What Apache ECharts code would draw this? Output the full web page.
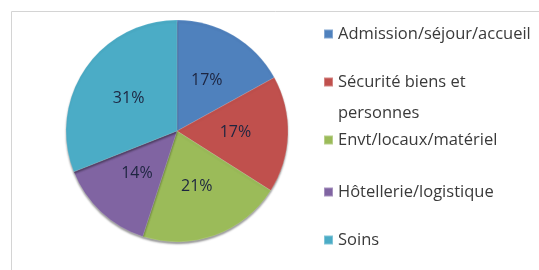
<!DOCTYPE html>
<html>
<head>
<meta charset="utf-8">
<script src="https://cdn.jsdelivr.net/npm/echarts@6/dist/echarts.min.js"></script>
<style>
  html, body { margin: 0; padding: 0; background: #fff; }
  #chart { width: 539px; height: 270px; }
</style>
</head>
<body>
<div id="chart"></div>
<script>
(function () {
  'use strict';

  var categories = ['Admission/séjour/accueil', 'Sécurité biens et personnes', 'Envt/locaux/matériel', 'Hôtellerie/logistique', 'Soins'];
  var values = [17, 17, 21, 14, 31];
  var colors = ['#4f81bd', '#c0504d', '#9bbb59', '#8064a2', '#4bacc6'];
  // vertical centre of each legend entry's first line
  var legendRows = [34, 82, 140, 192, 240];

  var data = categories.map(function (name, i) {
    return { name: name, value: values[i], itemStyle: { color: colors[i] } };
  });

  var legends = categories.map(function (name, i) {
    var wrapped = name === 'Sécurité biens et personnes';
    var lh = wrapped ? 31 : 20;
    // wrapped entry: an empty first line keeps the marker on "Sécurité..."
    var top = wrapped ? legendRows[i] - lh * 1.5 : legendRows[i] - lh / 2;
    return {
      data: [name],
      left: 323,
      top: top,
      padding: 0,
      itemWidth: 9,
      itemHeight: 9,
      icon: 'rect',
      selectedMode: false,
      formatter: function (n) {
        return wrapped ? '\nSécurité biens et\npersonnes' : n;
      },
      textStyle: {
        fontFamily: 'Open Sans',
        fontSize: 16.5,
        color: '#3a3a3a',
        lineHeight: lh
      }
    };
  });

  var myChart = echarts.init(document.getElementById('chart'));
  myChart.setOption({
    animation: false,
    backgroundColor: '#fff',
    graphic: [{
      type: 'rect',
      shape: { x: 11.5, y: 11.5, width: 600, height: 400 },
      style: { fill: 'none', stroke: '#d4d4d4', lineWidth: 1 },
      silent: true
    }],
    legend: legends,
    series: [{
      type: 'pie',
      center: [177, 131],
      radius: 111,
      startAngle: 90,
      clockwise: true,
      data: data,
      itemStyle: {
        borderColor: 'rgba(255,255,255,0.3)',
        borderWidth: 0.5,
        shadowColor: 'rgba(0,0,0,0.4)',
        shadowBlur: 2,
        shadowOffsetY: 2
      },
      label: {
        position: 'inside',
        formatter: '{c}%',
        fontFamily: 'Open Sans',
        fontSize: 16,
        color: '#1d2540'
      },
      labelLine: { show: false }
    }]
  });
})();
</script>
</body>
</html>
